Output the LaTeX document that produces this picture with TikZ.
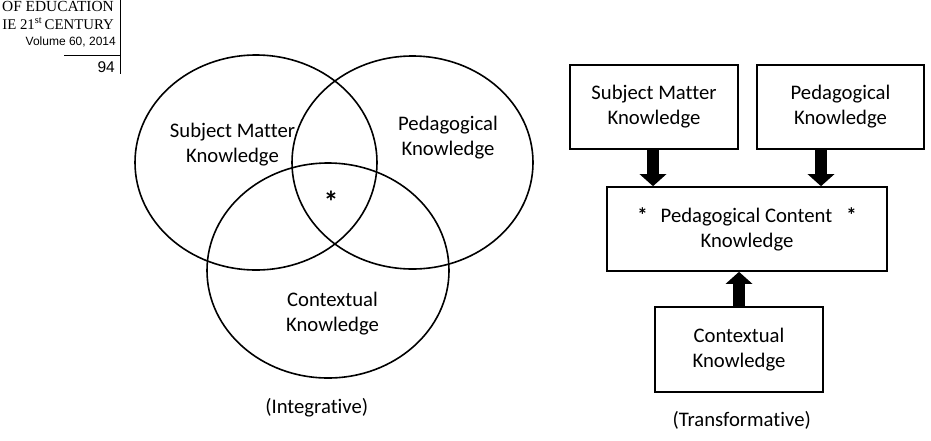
\documentclass[tikz,border=0pt]{standalone}
\usepackage{fontspec}
\setmainfont{Carlito}[Ligatures=NoCommon]
\newfontfamily\hdrserif{Liberation Serif}
\newfontfamily\hdrsans{Liberation Sans}
\usetikzlibrary{shapes.geometric,arrows.meta}
\begin{document}
\begin{tikzpicture}[x=1pt,y=-1pt,
  lbl/.style={align=center,font=\fontsize{20.7}{25}\selectfont,inner sep=0pt},
  venn/.style={draw,ellipse,line width=1.6pt,inner sep=0pt,minimum width=242pt,minimum height=215pt},
  kbox/.style={draw,rectangle,line width=1.6pt,inner sep=0pt,align=center,font=\fontsize{20.7}{25}\selectfont},
  bigarrow/.style={line width=12.7pt,-{Triangle[width=26pt,length=12pt]}},
  hdr/.style={anchor=base east,inner sep=0pt}]
\useasboundingbox (0,0) rectangle (931,440);
% header
\node[hdr,font=\hdrserif\fontsize{15.4}{18}\selectfont] (h1) at (114,11) {OF EDUCATION};
\node[hdr,font=\hdrserif\fontsize{14.8}{18}\selectfont] (h2) at (114,29) {IE 21\textsuperscript{st}\,CENTURY};
\node[hdr,font=\hdrsans\fontsize{12}{14}\selectfont] (h3) at (116,45) {Volume 60, 2014};
\node[hdr,font=\hdrsans\fontsize{15.5}{17}\selectfont] (h4) at (115,72) {94};
\coordinate (vt) at (120,0);
\coordinate (vb) at (120,74);
\coordinate (hl) at (64,55);
\coordinate (hr) at (120,55);
\draw[line width=0.8pt] (vt) -- (vb);
\draw[line width=0.8pt] (hl) -- (hr);
% Venn diagram
\node[venn] (smk) at (256,162.5) {};
\node[venn,minimum width=241pt,minimum height=213pt] (pk) at (412.5,162.5) {};
\node[venn] (ck) at (328,270.5) {};
\node[lbl] (tsmk) at (232.5,145) {Subject Matter\\Knowledge};
\node[lbl] (tpk) at (448,138) {Pedagogical\\Knowledge};
\node[lbl] (tck) at (332.5,314) {Contextual\\Knowledge};
\node[inner sep=0pt,font=\bfseries\fontsize{30}{30}\selectfont] (star) at (331,202) {*};
\node[lbl] (integ) at (316.7,408) {(Integrative)};
% Transformative diagram
\node[kbox,minimum width=168pt,minimum height=84pt] (b1) at (654,107) {Subject Matter\\Knowledge};
\node[kbox,minimum width=167pt,minimum height=84pt] (b2) at (840.5,107) {Pedagogical\\Knowledge};
\node[kbox,minimum width=280pt,minimum height=84pt] (pck) at (747,229) {\textbf{*}\hspace{13pt}Pedagogical Content\hspace{14pt}\textbf{*}\\Knowledge};
\node[kbox,minimum width=168pt,minimum height=85pt] (b3) at (739,349.5) {Contextual\\Knowledge};
\node[lbl] (transf) at (741.7,420) {(Transformative)};
\draw[bigarrow] ([xshift=-1pt]b1.south) -- ([xshift=-1pt]b1.south |- pck.north);
\draw[bigarrow] ([xshift=-19.5pt]b2.south) -- ([xshift=-19.5pt]b2.south |- pck.north);
\draw[bigarrow] (b3.north) -- (b3.north |- pck.south);
\end{tikzpicture}
\end{document}
